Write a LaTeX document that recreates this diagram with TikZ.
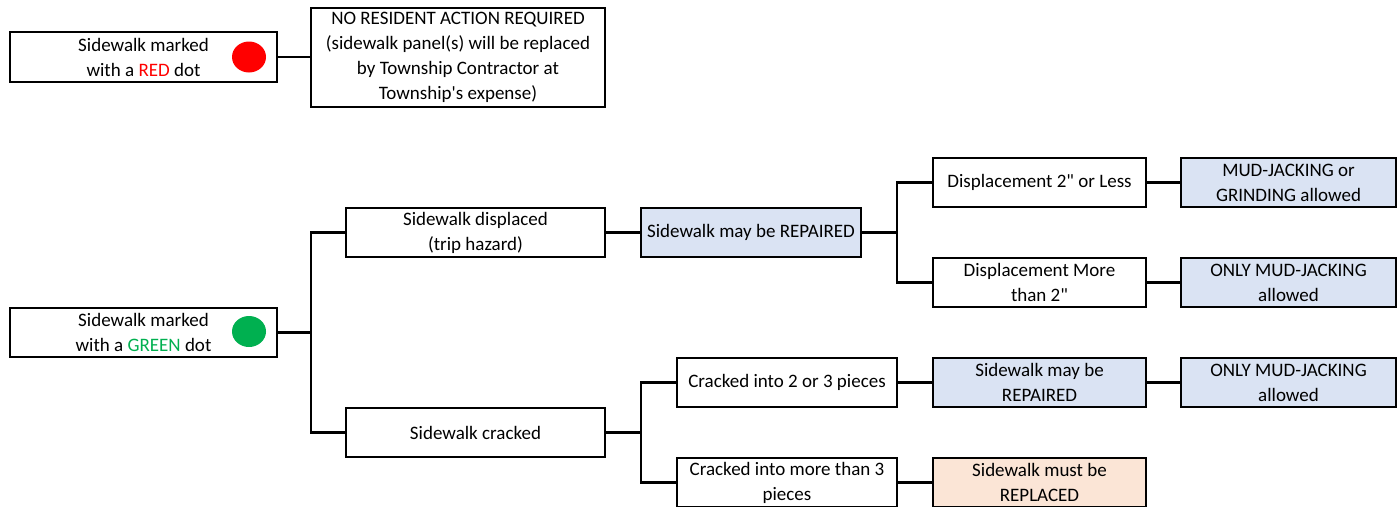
\documentclass[tikz,border=0pt]{standalone}
\usepackage{fontspec}
\setmainfont{Carlito}
\usetikzlibrary{shapes.geometric}
\definecolor{boxblue}{HTML}{DAE3F3}
\definecolor{boxpeach}{HTML}{FBE5D6}
\definecolor{dotred}{HTML}{FF0000}
\definecolor{dotgreen}{HTML}{00B050}
\begin{document}
\begin{tikzpicture}[x=1pt,y=-1pt,
  box/.style={draw=black, line width=2pt, align=center, inner sep=0pt,
    font=\fontsize{19}{25}\selectfont, minimum height=49pt},
  blue/.style={box, fill=boxblue},
  peach/.style={box, fill=boxpeach},
  link/.style={draw=black, line width=2.4pt},
  dot/.style={ellipse, inner sep=0pt, minimum width=34pt, minimum height=31pt}]
\clip (0,0) rectangle (1397,506);
\fill[white] (0,0) rectangle (1397,506);
% nodes
\node[box, minimum width=267pt, minimum height=50pt] (red) at (143.5,57) {Sidewalk marked\\with a {\color{dotred}RED} dot};
\node[dot, fill=dotred] (reddot) at (249,57) {};
\node[box, minimum width=294pt, minimum height=99pt] (nra) at (458,57) {NO RESIDENT ACTION REQUIRED\\(sidewalk panel(s) will be replaced\\by Township Contractor at\\Township\textquotesingle s expense)};
\node[box, minimum width=267pt] (green) at (143.5,332.5) {Sidewalk marked\\with a {\color{dotgreen}GREEN} dot};
\node[dot, fill=dotgreen] (greendot) at (249,331.5) {};
\node[box, minimum width=259pt] (disp) at (475.5,232.5) {Sidewalk displaced\\(trip hazard)};
\node[box, minimum width=259pt] (crack) at (475.5,432.5) {Sidewalk cracked};
\node[blue, minimum width=220pt] (rep1) at (751,232.5) {Sidewalk may be REPAIRED};
\node[box, minimum width=213pt] (dless) at (1039.5,182.5) {Displacement 2\textquotedbl{} or Less};
\node[blue, minimum width=215pt] (mud1) at (1288.5,182.5) {MUD-JACKING or\\GRINDING allowed};
\node[box, minimum width=213pt] (dmore) at (1039.5,282.5) {Displacement More\\than 2\textquotedbl};
\node[blue, minimum width=215pt] (only1) at (1288.5,282.5) {ONLY MUD-JACKING\\allowed};
\node[box, minimum width=220pt] (c23) at (787,382.5) {Cracked into 2 or 3 pieces};
\node[blue, minimum width=213pt] (rep2) at (1039.5,382.5) {Sidewalk may be\\REPAIRED};
\node[blue, minimum width=215pt] (only2) at (1288.5,382.5) {ONLY MUD-JACKING\\allowed};
\node[box, minimum width=220pt] (cmore) at (787,482.5) {Cracked into more than 3\\pieces};
\node[peach, minimum width=213pt] (repl) at (1039.5,482.5) {Sidewalk must be\\REPLACED};
% junctions
\coordinate (j1) at (311,332.5);
\coordinate (j2) at (897,232.5);
\coordinate (j3) at (641,432.5);
% connectors
\draw[link] (red.east) -- (nra.west);
\draw[link] (green.east) -- (j1) |- (disp.west);
\draw[link] (j1) |- (crack.west);
\draw[link] (disp.east) -- (rep1.west);
\draw[link] (rep1.east) -- (j2) |- (dless.west);
\draw[link] (j2) |- (dmore.west);
\draw[link] (dless.east) -- (mud1.west);
\draw[link] (dmore.east) -- (only1.west);
\draw[link] (crack.east) -- (j3) |- (c23.west);
\draw[link] (j3) |- (cmore.west);
\draw[link] (c23.east) -- (rep2.west);
\draw[link] (rep2.east) -- (only2.west);
\draw[link] (cmore.east) -- (repl.west);
\end{tikzpicture}
\end{document}
